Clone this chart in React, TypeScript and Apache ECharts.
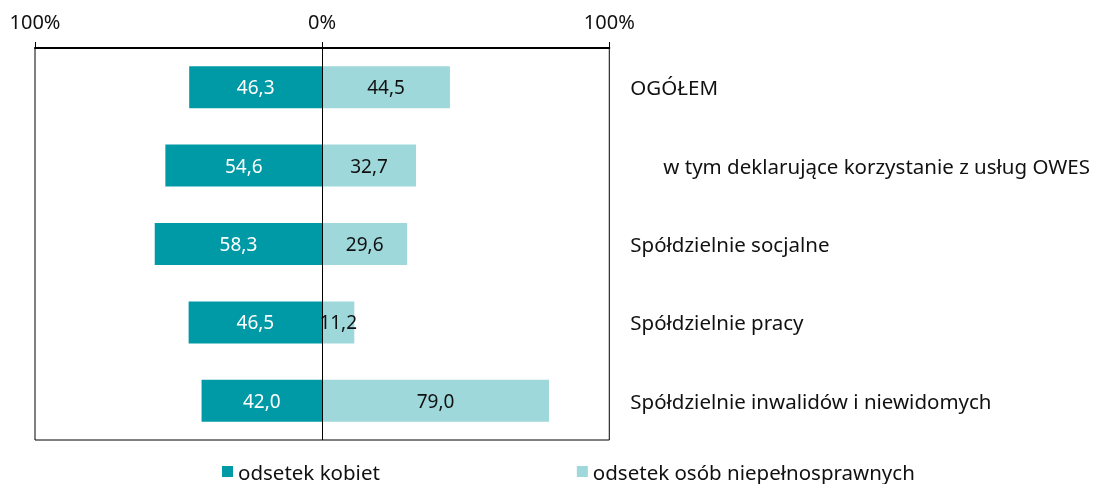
import React, { useEffect, useRef } from "react";
import * as echarts from "echarts";

const categories = [
  "OGÓŁEM",
  "w tym deklarujące korzystanie z usług OWES",
  "Spółdzielnie socjalne",
  "Spółdzielnie pracy",
  "Spółdzielnie inwalidów i niewidomych",
];
const women = [46.3, 54.6, 58.3, 46.5, 42.0];
const disabled = [44.5, 32.7, 29.6, 11.2, 79.0];
const seriesNames = ["odsetek kobiet", "odsetek osób niepełnosprawnych"];
const axisTicks = [-100, 0, 100];

const FONT = "Noto Sans";
const fmt = (v: number) => Math.abs(v).toFixed(1).replace(".", ",");

export default function App() {
  const ref = useRef<HTMLDivElement>(null);
  useEffect(() => {
    if (!ref.current) return;
    const chart = echarts.init(ref.current, null, { renderer: "svg" });
    chart.setOption({
      animation: false,
      textStyle: { fontFamily: FONT },
      grid: {
        left: 35,
        right: 482,
        top: 48,
        bottom: 44,
        show: true,
        borderColor: "#000",
        borderWidth: 1,
        backgroundColor: "transparent",
      },
      legend: {
        left: 222,
        top: 461,
        padding: 0,
        itemWidth: 11,
        itemHeight: 11,
        itemGap: 197,
        icon: "rect",
        textStyle: { fontFamily: FONT, fontSize: 20.5, lineHeight: 18, color: "#111" },
        data: seriesNames,
      },
      xAxis: {
        type: "value",
        position: "top",
        min: axisTicks[0],
        max: axisTicks[axisTicks.length - 1],
        interval: 100,
        axisLine: { show: true, lineStyle: { color: "#000", width: 2 } },
        axisTick: { show: true, length: 6, lineStyle: { color: "#000" } },
        splitLine: { show: false },
        axisLabel: {
          formatter: (v: number) => Math.abs(v) + "%",
          fontFamily: FONT,
          fontSize: 20,
          color: "#111",
          margin: 17,
        },
      },
      yAxis: {
        type: "category",
        data: categories,
        inverse: true,
        position: "right",
        axisLine: { show: false },
        axisTick: { show: false },
        axisLabel: {
          align: "left",
          margin: 21,
          fontFamily: FONT,
          fontSize: 20.5,
          color: "#111",
          formatter: (v: string) => (v === categories[1] ? "{ind|" + v + "}" : v),
          rich: {
            ind: { padding: [0, 0, 0, 33], fontFamily: FONT, fontSize: 20.5, color: "#111" },
          },
        },
      },
      series: [
        {
          name: seriesNames[0],
          type: "bar",
          stack: "a",
          barWidth: 42,
          data: women.map((v) => -v),
          itemStyle: { color: "#009AA6" },
          label: {
            show: true,
            position: "inside",
            color: "#fff",
            fontFamily: FONT,
            fontSize: 19,
            formatter: (p: any) => fmt(p.value),
          },
        },
        {
          name: seriesNames[1],
          type: "bar",
          stack: "a",
          barWidth: 42,
          data: disabled,
          itemStyle: { color: "#9ED8DB" },
          label: {
            show: true,
            position: "inside",
            color: "#111",
            fontFamily: FONT,
            fontSize: 19,
            formatter: (p: any) => fmt(p.value),
          },
          markLine: {
            silent: true,
            symbol: ["none", "none"],
            label: { show: false },
            lineStyle: { color: "#000", width: 1, type: "solid" },
            data: [{ xAxis: 0 }],
          },
        },
      ],
    });
    return () => chart.dispose();
  }, []);
  return (
    <div
      ref={ref}
      style={{ position: "fixed", left: 0, top: 0, width: 1093, height: 484 }}
    />
  );
}
